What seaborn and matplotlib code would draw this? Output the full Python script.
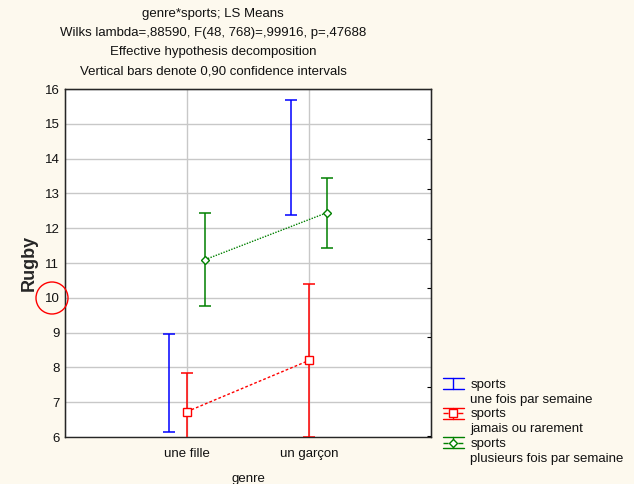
import matplotlib
matplotlib.use("Agg")
import matplotlib.pyplot as plt
from matplotlib.patches import Ellipse
from matplotlib.lines import Line2D
from matplotlib.legend_handler import HandlerBase
import seaborn as sns
import pandas as pd
import numpy as np

# categories and series (LS means with 0,90 confidence limits)
genres = ["une fille", "un garçon"]
series = ["sports\nune fois par semaine",
          "sports\njamais ou rarement",
          "sports\nplusieurs fois par semaine"]
means = {
    series[0]: [7.55, 14.03],
    series[1]: [6.73, 8.20],
    series[2]: [11.10, 12.45],
}
lower = {
    series[0]: [6.15, 12.38],
    series[1]: [5.62, 5.99],
    series[2]: [9.76, 11.44],
}
upper = {
    series[0]: [8.95, 15.68],
    series[1]: [7.84, 10.41],
    series[2]: [12.45, 13.44],
}
colors = ["#0000ff", "#ff0000", "#008000"]
markers = [None, "s", "D"]
marker_sizes = [0, 6, 4.5]
line_styles = ["-", (0, (2, 1.5)), (0, (1, 1))]
dodge = [-0.15, 0.0, 0.15]
right_ticks = [6.03, 7.45, 8.87, 10.29, 11.70, 13.13, 14.56]

sns.set_style("white")
plt.rcParams["font.family"] = ["Liberation Sans", "DejaVu Sans"]

bg = "#fdf9ee"
fig = plt.figure(figsize=(6.34, 4.84), dpi=100, facecolor=bg)
ax = fig.add_axes([65 / 634, 1 - 437 / 484, (431 - 65) / 634, (437 - 89) / 484])
ax.set_facecolor("white")

rows = []
for s in series:
    for i, g in enumerate(genres):
        rows.append({"serie": s, "x": i, "mean": means[s][i],
                     "lo": lower[s][i], "hi": upper[s][i]})
df = pd.DataFrame(rows)

for k, s in enumerate(series):
    d = df[df["serie"] == s]
    xs = d["x"].to_numpy() + dodge[k]
    m = d["mean"].to_numpy()
    err = np.vstack([m - d["lo"].to_numpy(), d["hi"].to_numpy() - m])
    ax.errorbar(xs, m, yerr=err, fmt="none", ecolor=colors[k],
                elinewidth=1.1, capsize=4.5, capthick=1.1, zorder=3)
    if markers[k] is not None:
        sns.lineplot(x=xs, y=m, ax=ax, color=colors[k], linewidth=1,
                     linestyle=line_styles[k], marker=markers[k],
                     markersize=marker_sizes[k],
                     markerfacecolor="white", markeredgecolor=colors[k],
                     markeredgewidth=1, legend=False, zorder=4)

ax.set_xlim(-1, 2)
ax.set_ylim(6, 16)
ax.set_xticks([0, 1])
ax.set_xticklabels(genres)
ax.set_yticks(range(6, 17))
ax.tick_params(axis="y", length=0, labelsize=9.5, colors="#111111", pad=4)
ax.tick_params(axis="x", length=0, labelsize=9.5, colors="#111111", pad=8)
ax.grid(True, color="#c8c8c8", linewidth=1)
ax.set_axisbelow(True)
for sp in ax.spines.values():
    sp.set_color("black")
    sp.set_linewidth(1)
ax.spines["bottom"].set_color("#555555")

ax2 = ax.twinx()
ax2.set_ylim(6, 16)
ax2.set_yticks(right_ticks)
ax2.set_yticklabels([])
ax2.tick_params(axis="y", direction="in", length=3, color="black")
ax2.grid(False)

ax.set_xlabel("genre", fontsize=9.5, labelpad=9, color="#111111")
ax.set_ylabel("Rugby", fontsize=13, fontweight="bold", labelpad=5)

title = ["genre*sports; LS Means",
         "Wilks lambda=,88590, F(48, 768)=,99916, p=,47688",
         "Effective hypothesis decomposition",
         "Vertical bars denote 0,90 confidence intervals"]
for i, t in enumerate(title):
    fig.text(213 / 634, 1 - (14 + i * 19) / 484, t, ha="center", va="center",
             fontsize=9.5, color="#111111")


class ErrBarHandler(HandlerBase):
    # legend key: cap - line with marker - cap, next to the first text line
    def create_artists(self, legend, orig, xd, yd, w, h, fontsize, trans):
        c = orig.get_color()
        cy = h / 2 - yd + 6
        arts = [
            Line2D([0 - xd, w - xd], [cy + 3.8, cy + 3.8], color=c, lw=1),
            Line2D([0 - xd, w - xd], [cy - 3.8, cy - 3.8], color=c, lw=1),
            Line2D([w / 2 - xd, w / 2 - xd], [cy - 3.8, cy + 3.8], color=c, lw=1),
        ]
        if orig.get_marker() not in (None, "None", ""):
            arts.append(Line2D([0 - xd, w - xd], [cy, cy], color=c, lw=1,
                               linestyle=orig.get_linestyle()))
            arts.append(Line2D([w / 2 - xd], [cy], color=c, marker=orig.get_marker(),
                               markersize=orig.get_markersize(),
                               markerfacecolor="white", markeredgecolor=c))
        for a in arts:
            a.set_transform(trans)
        return arts


leg_handles = [
    Line2D([], [], color=colors[k], linestyle=line_styles[k],
           marker=markers[k] if markers[k] else "None",
           markersize=marker_sizes[k])
    for k in range(3)
]
leg = fig.legend(leg_handles, series, loc="upper left",
                 bbox_to_anchor=(436 / 634, 1 - 372 / 484), frameon=False,
                 fontsize=9.5, handlelength=1.6, handletextpad=0.5,
                 labelspacing=0.18, borderpad=0,
                 handler_map={Line2D: ErrBarHandler()})
for t in leg.get_texts():
    t.set_linespacing(1.35)
    t.set_color("#111111")

# red circle around the "10" label
fig.add_artist(Ellipse((52 / 634, 1 - 298 / 484), 32 / 634, 32 / 484,
                       transform=fig.transFigure, fill=False,
                       edgecolor="#ff0000", linewidth=1))

fig.savefig("out.png", dpi=100, facecolor=bg)
